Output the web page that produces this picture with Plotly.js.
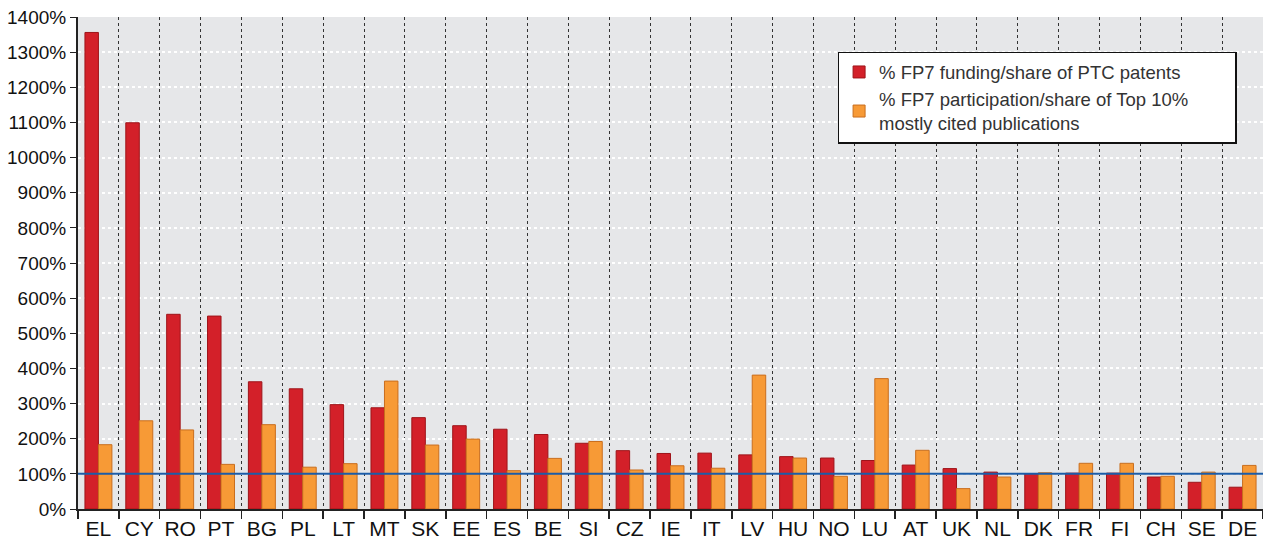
<!DOCTYPE html>
<html>
<head>
<meta charset="utf-8">
<script src="https://cdn.plot.ly/plotly-3.0.1.min.js"></script>
<style>html,body{margin:0;padding:0;background:#fff;}#chart{width:1263px;height:539px;}</style>
</head>
<body>
<div id="chart"></div>
<script>
const countries = ["EL","CY","RO","PT","BG","PL","LT","MT","SK","EE","ES","BE","SI","CZ","IE","IT","LV","HU","NO","LU","AT","UK","NL","DK","FR","FI","CH","SE","DE"];
const fundingPatents = [1356,1099,554,549,362,342,297,288,260,237,227,212,187,166,158,159,154,149,145,138,125,115,105,101,102,102,91,76,62];
const participationPubs = [183,251,225,127,240,119,129,364,182,199,109,144,192,111,123,116,381,145,93,371,167,58,91,103,130,130,93,105,124];
const seriesNames = ["% FP7 funding/share of PTC patents", "% FP7 participation/share of Top 10%&nbsp;&nbsp;&nbsp;&nbsp;&nbsp;&nbsp;&nbsp;&nbsp;<br>mostly cited publications"];
const referenceLevel = 100;

const traces = [
  {type:"bar", name:seriesNames[0], x:countries, y:fundingPatents, legendgroup:"a",
   marker:{color:"#d32029", line:{color:"#9e1419", width:1}}},
  {type:"bar", name:seriesNames[1], x:countries, y:participationPubs, legendgroup:"b",
   marker:{color:"#f79a36", line:{color:"#c96e1e", width:1}}}
];

const layout = {
  width:1263, height:539,
  margin:{l:78, r:0, t:17, b:30, pad:0},
  paper_bgcolor:"#ffffff",
  plot_bgcolor:"#e6e7e9",
  font:{family:"Liberation Sans, Arial, sans-serif", color:"#111"},
  barmode:"group",
  bargap:0.34,
  bargroupgap:0,
  showlegend:true,
  legend:{x:0.641, y:0.929, xanchor:"left", yanchor:"top",
    bgcolor:"#ffffff", bordercolor:"#111", borderwidth:1.5,
    font:{size:18.5, color:"#333"}, traceorder:"normal",
    itemwidth:30, tracegroupgap:10},
  xaxis:{type:"category", tickson:"boundaries", ticks:"outside", ticklen:8, tickcolor:"#222", tickwidth:1.5,
    tickangle:0,
    showgrid:true, gridcolor:"#333", griddash:"dot", gridwidth:1,
    showline:true, linecolor:"#222", linewidth:2,
    tickfont:{size:21, color:"#111"}, range:[-0.5, countries.length-0.5], fixedrange:true},
  yaxis:{range:[0,1400], dtick:100, ticksuffix:"%", ticks:"outside", ticklen:6, tickcolor:"#222",
    showgrid:true, gridcolor:"#ffffff", griddash:"dot", gridwidth:2,
    showline:true, linecolor:"#222", linewidth:2, zeroline:false,
    tickfont:{size:19, color:"#111"}, fixedrange:true},
  shapes:[{type:"line", xref:"paper", yref:"y", x0:0, x1:1, y0:referenceLevel, y1:referenceLevel,
    line:{color:"#1b5ca8", width:2}, layer:"above"}]
};

Plotly.newPlot("chart", traces, layout, {displayModeBar:false, staticPlot:true});
</script>
</body>
</html>
